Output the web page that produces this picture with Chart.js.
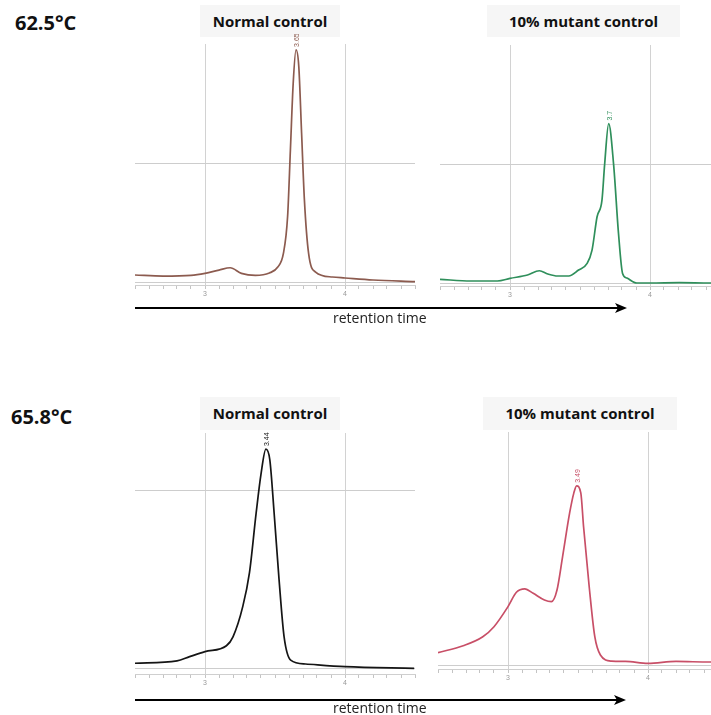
<!DOCTYPE html>
<html>
<head>
<meta charset="utf-8">
<script src="https://cdn.jsdelivr.net/npm/chart.js@4.4.1/dist/chart.umd.min.js"></script>
<style>
  body { margin: 0; width: 711px; height: 715px; overflow: hidden; background: #fff; position: relative; font-family: "Open Sans", sans-serif; }
  .temp { position: absolute; font-weight: bold; font-size: 20px; color: #111; line-height: 24px; }
  .title { position: absolute; background: #f6f6f6; font-weight: bold; font-size: 15px; color: #111; text-align: center; }
  .rt { position: absolute; font-size: 14px; color: #222; line-height: 16px; }
  canvas { position: absolute; }
  svg { position: absolute; left: 0; top: 0; }
</style>
</head>
<body>

<div class="temp" style="left:15px;top:11px">62.5°C</div>
<div class="temp" style="left:11px;top:405px">65.8°C</div>

<div class="title" style="left:200px;top:5px;width:140px;height:32px;line-height:32px">Normal control</div>
<div class="title" style="left:487px;top:5px;width:193px;height:32px;line-height:32px">10% mutant control</div>
<div class="title" style="left:200px;top:397px;width:140px;height:33px;line-height:33px">Normal control</div>
<div class="title" style="left:483px;top:397px;width:194px;height:33px;line-height:33px">10% mutant control</div>

<canvas id="c1" width="282" height="267" style="left:134px;top:34px"></canvas>
<canvas id="c2" width="282" height="267" style="left:439px;top:35px"></canvas>
<canvas id="c3" width="282" height="267" style="left:134px;top:423px"></canvas>
<canvas id="c4" width="282" height="263" style="left:437px;top:422px"></canvas>

<svg width="711" height="715">
  <line x1="135" y1="308" x2="618" y2="308" stroke="#000" stroke-width="2"/>
  <polygon points="627,308 615,303 618,308 615,313" fill="#000"/>
  <line x1="135" y1="700" x2="617" y2="700" stroke="#000" stroke-width="2"/>
  <polygon points="626,700 614,695 617,700 614,705" fill="#000"/>
</svg>
<div class="rt" style="left:333px;top:310px">retention time</div>
<div class="rt" style="left:333px;top:700px">retention time</div>

<script>
// retention time (min) and detector signal
const p1Time   = [2.5, 2.7, 2.9, 3.0, 3.1, 3.18, 3.26, 3.36, 3.46, 3.52, 3.56, 3.59, 3.61, 3.63, 3.65, 3.67, 3.69, 3.71, 3.74, 3.79, 3.91, 4.0, 4.2, 4.5];
const p1Signal = [5.9, 5.0, 5.6, 7.3, 10, 12, 7.3, 5.6, 7.6, 12.6, 24, 55, 111, 167, 195, 181, 125, 69, 24, 8.4, 4.2, 3.4, 1.7, 0.3];

const p2Time   = [2.5, 2.72, 2.91, 3.0, 3.125, 3.21, 3.27, 3.34, 3.42, 3.49, 3.551, 3.586, 3.622, 3.657, 3.676, 3.705, 3.74, 3.775, 3.804, 3.835, 3.906, 4.0, 4.21, 4.43, 4.5];
const p2Signal = [3.1, 1.7, 1.7, 3.9, 6.7, 10.3, 7.6, 5.9, 5.9, 10.9, 16.5, 27.7, 55.7, 69.7, 99.7, 134, 99.7, 41.7, 8.1, 4.2, 0, 0, 0.3, 0, 0];

const p3Time   = [2.5, 2.8, 2.89, 3.0, 3.153, 3.2, 3.27, 3.318, 3.365, 3.4, 3.435, 3.463, 3.494, 3.529, 3.565, 3.612, 3.718, 4.0, 4.494];
const p3Signal = [3.2, 4.5, 6.9, 9.7, 13, 18, 35, 54, 87, 109, 123, 117, 87, 50, 18, 5, 2.8, 1.3, 0.4];

const p4Time   = [2.5, 2.68, 2.82, 2.9, 3.0, 3.06, 3.12, 3.18, 3.26, 3.31, 3.35, 3.39, 3.44, 3.47, 3.49, 3.52, 3.54, 3.58, 3.62, 3.66, 3.74, 3.84, 4.0, 4.2, 4.44, 4.5];
const p4Signal = [6.9, 10.8, 15.8, 21.4, 32.6, 40.6, 42.5, 40, 36.3, 35.4, 41.9, 60.5, 84.7, 95.9, 100, 96, 77, 43.7, 15.8, 5.6, 2.2, 2, 0.9, 2, 1.7, 1.7];

const peakLabels = ["3.65", "3.7", "3.44", "3.49"];
const majorTicks = [3, 4];

// small rotated retention-time label above the highest point
const peakLabel = {
  id: "peakLabel",
  afterDatasetsDraw(chart, args, opts) {
    const pts = chart.getDatasetMeta(0).data;
    const vals = chart.data.datasets[0].data;
    let best = 0;
    vals.forEach((d, i) => { if (d.y > vals[best].y) best = i; });
    const p = pts[best];
    const ctx = chart.ctx;
    ctx.save();
    ctx.translate(p.x + 1, p.y - 3);
    ctx.rotate(-Math.PI / 2);
    ctx.font = "7px Arial";
    ctx.fillStyle = opts.color;
    ctx.textAlign = "left";
    ctx.textBaseline = "middle";
    ctx.fillText(opts.text, 0, 0);
    ctx.restore();
  }
};

function makeChart(id, time, signal, color, yMin, yMax, yGrid, label) {
  const pts = time.map((t, i) => ({ x: t, y: signal[i] }));
  return new Chart(document.getElementById(id), {
    type: "line",
    data: {
      datasets: [{
        data: pts,
        borderColor: color,
        borderWidth: 1.7,
        pointRadius: 0,
        fill: false,
        cubicInterpolationMode: "monotone"
      }]
    },
    options: {
      responsive: false,
      animation: false,
      events: [],
      layout: { padding: { top: 10, left: 0, right: 0, bottom: 0 } },
      scales: {
        x: {
          type: "linear",
          min: 2.5,
          max: 4.5,
          afterFit: s => { s.height = 16; },
          ticks: {
            stepSize: 0.1,
            autoSkip: false,
            maxRotation: 0,
            padding: 1,
            font: { size: 7, family: "Arial" },
            color: "#999",
            callback: v => {
              const r = Math.round(v);
              return (Math.abs(v - r) < 1e-6 && majorTicks.includes(r)) ? String(r) : "";
            }
          },
          grid: {
            tickLength: 4,
            tickColor: "#c4c4c4",
            color: c => {
              const v = c.tick ? c.tick.value : 0;
              return Math.abs(v - Math.round(v)) < 1e-6 && majorTicks.includes(Math.round(v)) ? "#d2d2d2" : "rgba(0,0,0,0)";
            },
            lineWidth: 1
          },
          border: { display: true, color: "#cfcfcf" }
        },
        y: {
          min: yMin,
          max: yMax,
          afterFit: s => { s.width = 0; },
          afterBuildTicks: s => { s.ticks = yGrid.map(v => ({ value: v })); },
          ticks: { display: false },
          grid: { color: "#cdcdcd", drawTicks: false },
          border: { display: false }
        }
      },
      plugins: {
        legend: { display: false },
        tooltip: { enabled: false },
        peakLabel: { text: label, color: color }
      }
    },
    plugins: [peakLabel]
  });
}

makeChart("c1", p1Time, p1Signal, "#8c5b4f", -2.5, 200, [0, 100], peakLabels[0]);
makeChart("c2", p2Time, p2Signal, "#2f8f5b", -2.5, 200, [0, 100], peakLabels[1]);
makeChart("c3", p3Time, p3Signal, "#151515", -2.8, 132, [0, 100], peakLabels[2]);
makeChart("c4", p4Time, p4Signal, "#c84f67", -2.2, 130, [0], peakLabels[3]);
</script>
</body>
</html>
